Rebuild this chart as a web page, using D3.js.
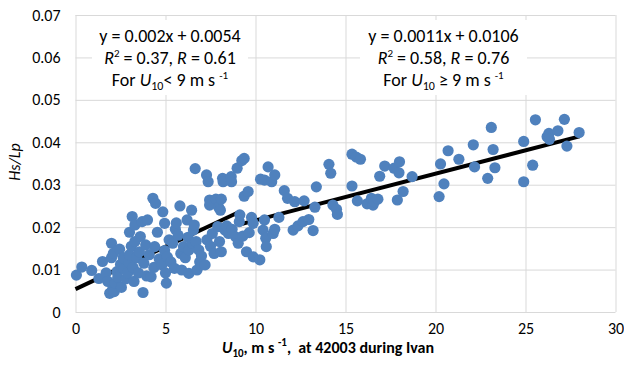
<!DOCTYPE html>
<html>
<head>
<meta charset="utf-8">
<script src="https://cdn.jsdelivr.net/npm/d3@7"></script>
<style>
  body { margin: 0; background: #fff; }
  svg { display: block; }
  text { font-family: Carlito, Lato, "Open Sans", sans-serif; fill: #000; }
</style>
</head>
<body>
<svg id="chart" width="624" height="373"></svg>
<script>
// Wind speed U10 (m/s) at buoy 42003 and wave steepness Hs/Lp
const u10 = [
  0.05, 0.35, 0.9, 1.3, 1.5, 1.7, 1.8, 1.9, 2.0, 2.0,
  2.05, 2.1, 2.15, 2.2, 2.3, 2.35, 2.45, 2.5, 2.55, 2.65, 2.7, 2.8, 2.9, 2.95, 3.0, 3.0,
  3.1, 3.15, 3.2, 3.25, 3.3, 3.3, 3.4, 3.5, 3.55, 3.6, 3.7, 3.75, 3.8, 3.9, 3.95,
  4.0, 4.1, 4.2, 4.3, 4.35, 4.4, 4.45, 4.55, 4.65, 4.8, 4.85, 4.95, 4.95, 5.0,
  5.05, 5.1, 5.2, 5.3, 5.4, 5.5, 5.55, 5.6, 5.7, 5.8, 5.85, 5.9, 6.0,
  6.1, 6.2, 6.25, 6.3, 6.3, 6.45, 6.5, 6.55, 6.6, 6.65, 6.7, 6.75, 6.85, 6.9, 7.0, 7.0,
  7.2, 7.28, 7.3, 7.37, 7.45, 7.45, 7.5, 7.6, 7.7, 7.8, 7.9, 7.95, 8.0, 8.05, 8.1, 8.1, 8.17, 8.2, 8.3, 8.4,
  8.5, 8.65, 8.67, 8.7, 8.9, 8.98,
  9.04, 9.1, 9.13, 9.24, 9.3, 9.37, 9.37, 9.5, 9.59, 9.65, 9.78, 9.87, 9.87, 10.24, 10.28, 10.42, 10.5, 10.5,
  10.57, 10.6, 10.7, 10.9, 10.98, 11.07, 11.07, 11.3, 11.6, 11.78, 12.09, 12.18, 12.36, 12.64, 12.7, 12.96,
  13.2, 13.3, 13.38, 14.08, 14.18, 14.3, 14.5, 14.55, 15.36, 15.36, 15.6, 15.83, 15.66, 16.2, 16.44, 16.53,
  16.6, 16.8, 16.9, 17.18, 17.7, 17.88, 17.97, 18.0, 18.2, 18.7, 20.2, 20.28, 20.47, 20.7, 21.3, 22.1, 22.17,
  22.9, 23.1, 23.2, 23.3, 24.9, 24.9, 25.4, 25.55, 26.2, 26.3, 26.33, 26.8, 27.16, 27.3, 27.98
];
const hsLp = [
  0.0087, 0.0106, 0.0098, 0.0079, 0.0119, 0.0092, 0.0072, 0.0044, 0.0162, 0.0128,
  0.0052, 0.0138, 0.0048, 0.0068, 0.0095, 0.0082, 0.0148, 0.0112, 0.0058, 0.0128, 0.0102, 0.0078, 0.0092, 0.0118, 0.0135, 0.0188,
  0.0155, 0.0225, 0.0105, 0.0072, 0.0205, 0.0166, 0.0128, 0.0092, 0.0142, 0.0178, 0.0213, 0.0046, 0.0115, 0.0158, 0.0085,
  0.0217, 0.0135, 0.0083, 0.0268, 0.0105, 0.0154, 0.0256, 0.0188, 0.0125, 0.0111, 0.0236, 0.0209, 0.0145, 0.0092,
  0.0068, 0.0130, 0.0170, 0.0118, 0.0162, 0.0103, 0.0195, 0.0210, 0.0181, 0.0250, 0.0138, 0.0099, 0.0154,
  0.0128, 0.0217, 0.0176, 0.0146, 0.0091, 0.0240, 0.0162, 0.0193, 0.0205, 0.0338, 0.0166, 0.0099, 0.0146, 0.0118, 0.0111, 0.0132,
  0.0111, 0.0323, 0.0170, 0.0307, 0.0264, 0.0252, 0.0155, 0.0185, 0.0138, 0.0266, 0.0201, 0.0247, 0.0166, 0.0240, 0.0266, 0.0142, 0.0315, 0.0307, 0.0193, 0.0203,
  0.0185, 0.0319, 0.0307, 0.0195, 0.0177, 0.0339,
  0.0162, 0.0213, 0.0229, 0.0357, 0.0179, 0.0362, 0.0273, 0.0142, 0.0284, 0.0187, 0.0223, 0.0209, 0.0130, 0.0123, 0.0313, 0.0193, 0.0311, 0.0217,
  0.0174, 0.0154, 0.0342, 0.0307, 0.0185, 0.0323, 0.0195, 0.0223, 0.0286, 0.0268, 0.0193, 0.0260, 0.0203, 0.0213, 0.0262, 0.0218,
  0.0192, 0.0247, 0.0295, 0.0348, 0.0327, 0.0252, 0.0242, 0.0230, 0.0372, 0.0297, 0.0365, 0.0360, 0.0262, 0.0255, 0.0268, 0.0252,
  0.0260, 0.0266, 0.0320, 0.0344, 0.0339, 0.0264, 0.0328, 0.0354, 0.0284, 0.0319, 0.0272, 0.0349, 0.0302, 0.0380, 0.0360, 0.0394, 0.0342,
  0.0315, 0.0435, 0.0383, 0.0340, 0.0402, 0.0307, 0.0346, 0.0453, 0.0413, 0.0421, 0.0407, 0.0427, 0.0454, 0.0391, 0.0423
];

// Axis ticks
const xTicks = [0, 5, 10, 15, 20, 25, 30];
const yTicks = [0, 0.01, 0.02, 0.03, 0.04, 0.05, 0.06, 0.07];

// Linear fits for the two wind regimes
const fitSlope = [0.002, 0.0011];
const fitIntercept = [0.0054, 0.0106];
const fitStart = [0.0, 9.0];
const fitEnd = [9.0, 28.0];

const svg = d3.select("#chart");
const x = d3.scaleLinear().domain([0, 30]).range([75.5, 615.5]);
const y = d3.scaleLinear().domain([0, 0.07]).range([312, 15]);

const gridColor = "#d9d9d9";

// Vertical grid + x tick labels
const gx = svg.append("g").attr("transform", `translate(0,${y(0)})`)
  .call(d3.axisBottom(x).tickValues(xTicks).tickSize(-(y(0) - y(0.07))).tickPadding(11).tickFormat(d3.format("d")));
gx.select(".domain").remove();
gx.selectAll("line").attr("stroke", gridColor).attr("stroke-width", 1);
gx.selectAll("text").attr("font-size", 16).attr("fill", "#000");

// Horizontal grid + y tick labels
const gy = svg.append("g").attr("transform", `translate(${x(0)},0)`)
  .call(d3.axisLeft(y).tickValues(yTicks).tickSize(-(x(30) - x(0))).tickPadding(15)
    .tickFormat(d => d === 0 ? "0" : d3.format(".2f")(d)));
gy.select(".domain").remove();
gy.selectAll("line").attr("stroke", gridColor).attr("stroke-width", 1);
gy.selectAll("text").attr("font-size", 16).attr("fill", "#000");

// Fit lines (drawn beneath the points)
const fitGroup = svg.append("g");
fitSlope.forEach((m, i) => {
  fitGroup.append("line")
    .attr("x1", x(fitStart[i])).attr("y1", y(m * fitStart[i] + fitIntercept[i]))
    .attr("x2", x(fitEnd[i])).attr("y2", y(m * fitEnd[i] + fitIntercept[i]))
    .attr("stroke", "#000").attr("stroke-width", 4);
});

// Scatter points
svg.append("g").selectAll("circle")
  .data(u10.map((u, i) => [u, hsLp[i]]))
  .join("circle")
  .attr("cx", d => x(d[0])).attr("cy", d => y(d[1]))
  .attr("r", 5.6).attr("fill", "#4f81bd");

// Equation boxes
function equationBox(x0, x1, eq, r2, r, sign) {
  const g = svg.append("g");
  g.append("rect").attr("x", x0).attr("y", 20).attr("width", x1 - x0).attr("height", 75).attr("fill", "#fff");
  const cx = (x0 + x1) / 2;
  g.append("text").attr("x", cx).attr("y", 42).attr("text-anchor", "middle").attr("font-size", 18).text(eq);
  const t2 = g.append("text").attr("x", cx).attr("y", 64).attr("text-anchor", "middle").attr("font-size", 18);
  t2.append("tspan").attr("font-style", "italic").text("R");
  t2.append("tspan").attr("font-size", 11).attr("dy", -7).text("2");
  t2.append("tspan").attr("dy", 7).text(` = ${r2}, `);
  t2.append("tspan").attr("font-style", "italic").text("R");
  t2.append("tspan").text(` = ${r}`);
  const t3 = g.append("text").attr("x", cx).attr("y", 86).attr("text-anchor", "middle").attr("font-size", 18);
  t3.append("tspan").text("For ");
  t3.append("tspan").attr("font-style", "italic").text("U");
  t3.append("tspan").attr("font-size", 12).attr("dy", 4).text("10");
  t3.append("tspan").attr("dy", -4).text(`${sign} 9 m s `);
  t3.append("tspan").attr("font-size", 11).attr("dy", -7).text("-1");
}
equationBox(92, 248, "y = 0.002x + 0.0054", "0.37", "0.61", "<");
equationBox(360, 527, "y = 0.0011x + 0.0106", "0.58", "0.76", " ≥");

// Axis titles
const xt = svg.append("text").attr("x", 222).attr("y", 353).attr("font-size", 16).attr("font-weight", "bold");
xt.append("tspan").attr("font-style", "italic").text("U");
xt.append("tspan").attr("font-size", 11).attr("dy", 4).text("10");
xt.append("tspan").attr("dy", -4).text(", m s ");
xt.append("tspan").attr("font-size", 11).attr("dy", -7).text("-1");
xt.append("tspan").attr("dy", 7).attr("xml:space", "preserve").text(",  at 42003 during Ivan");

svg.append("text")
  .attr("transform", "translate(20,162) rotate(-90)")
  .attr("text-anchor", "middle").attr("font-size", 16).attr("font-style", "italic")
  .text("Hs/Lp");
</script>
</body>
</html>
